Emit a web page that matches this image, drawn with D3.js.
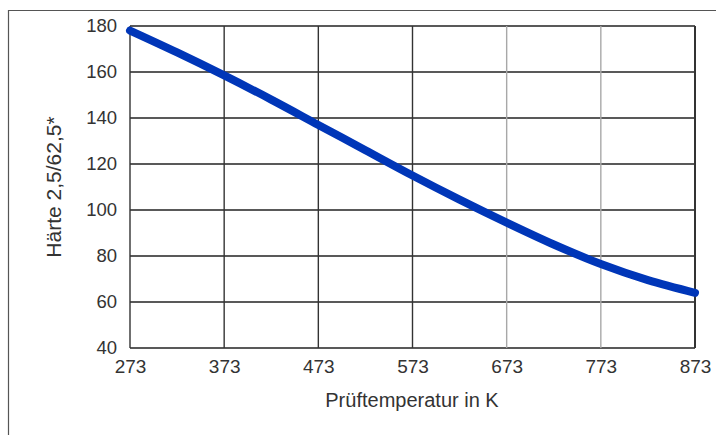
<!DOCTYPE html>
<html>
<head>
<meta charset="utf-8">
<script src="https://cdn.jsdelivr.net/npm/d3@7"></script>
<style>
  html, body { margin: 0; padding: 0; background: #fff; }
  svg { display: block; font-family: "Liberation Sans", Arial, sans-serif; }
</style>
</head>
<body>
<div id="chart"></div>
<script>
// Prüftemperatur (K) and Härte 2,5/62,5*
const temperatures = [273, 323, 373, 423, 473, 523, 573, 623, 673, 723, 773, 823, 873];
const hardness = [178, 168.5, 158.5, 148, 137, 126, 115, 104.5, 94.5, 85, 76.5, 69.5, 64];

const xTicks = [273, 373, 473, 573, 673, 773, 873];
const yTicks = [40, 60, 80, 100, 120, 140, 160, 180];
// vertical grid lines drawn lighter in the original
const lightXTicks = [673, 773];

const width = 716;
const height = 435;
const margin = { top: 26, right: 21, bottom: 87, left: 130 };
const plotWidth = width - margin.left - margin.right;
const plotHeight = height - margin.top - margin.bottom;
const textColor = "#333";

const svg = d3.select("#chart")
  .append("svg")
  .attr("width", width)
  .attr("height", height);

// outer frame (only top and left edges are visible)
svg.append("line")
  .attr("x1", 8).attr("x2", width).attr("y1", 10.5).attr("y2", 10.5)
  .attr("stroke", "#555").attr("stroke-width", 1.2);
svg.append("line")
  .attr("x1", 8.5).attr("x2", 8.5).attr("y1", 10).attr("y2", height)
  .attr("stroke", "#555").attr("stroke-width", 1.2);

const g = svg.append("g")
  .attr("transform", "translate(" + margin.left + "," + margin.top + ")");

const x = d3.scaleLinear().domain([273, 873]).range([0, plotWidth]);
const y = d3.scaleLinear().domain([40, 180]).range([plotHeight, 0]);

// horizontal grid
g.append("g")
  .selectAll("line")
  .data(yTicks)
  .enter()
  .append("line")
  .attr("x1", 0)
  .attr("x2", plotWidth)
  .attr("y1", function (d) { return y(d); })
  .attr("y2", function (d) { return y(d); })
  .attr("stroke", "#222")
  .attr("stroke-width", 1.3);

// vertical grid
g.append("g")
  .selectAll("line")
  .data(xTicks)
  .enter()
  .append("line")
  .attr("x1", function (d) { return x(d); })
  .attr("x2", function (d) { return x(d); })
  .attr("y1", 0)
  .attr("y2", plotHeight)
  .attr("stroke", function (d) { return lightXTicks.includes(d) ? "#a8a8a8" : "#333"; })
  .attr("stroke-width", function (d) { return d === 873 ? 2 : 1.4; });

// y axis labels
const yAxis = d3.axisLeft(y).tickValues(yTicks).tickSize(0).tickPadding(13);
g.append("g")
  .attr("class", "y axis")
  .call(yAxis)
  .call(function (sel) { sel.select(".domain").remove(); })
  .selectAll("text")
  .attr("font-size", 18.5)
  .attr("font-family", "Liberation Sans, Arial, sans-serif")
  .attr("fill", textColor);

// x axis labels
const xAxis = d3.axisBottom(x).tickValues(xTicks).tickSize(0).tickPadding(12);
g.append("g")
  .attr("class", "x axis")
  .attr("transform", "translate(0," + plotHeight + ")")
  .call(xAxis)
  .call(function (sel) { sel.select(".domain").remove(); })
  .selectAll("text")
  .attr("font-size", 19)
  .attr("font-family", "Liberation Sans, Arial, sans-serif")
  .attr("fill", textColor);

// hardness curve
const line = d3.line()
  .x(function (d) { return x(d[0]); })
  .y(function (d) { return y(d[1]); })
  .curve(d3.curveMonotoneX);

g.append("path")
  .datum(d3.zip(temperatures, hardness))
  .attr("d", line)
  .attr("fill", "none")
  .attr("stroke", "#0036b8")
  .attr("stroke-width", 8)
  .attr("stroke-linecap", "round")
  .attr("stroke-linejoin", "round");

// axis titles
svg.append("text")
  .attr("x", 412)
  .attr("y", 407)
  .attr("text-anchor", "middle")
  .attr("font-size", 20)
  .attr("fill", textColor)
  .text("Prüftemperatur in K");

svg.append("text")
  .attr("transform", "translate(61,187) rotate(-90)")
  .attr("text-anchor", "middle")
  .attr("font-size", 21)
  .attr("fill", textColor)
  .text("Härte 2,5/62,5*");
</script>
</body>
</html>
